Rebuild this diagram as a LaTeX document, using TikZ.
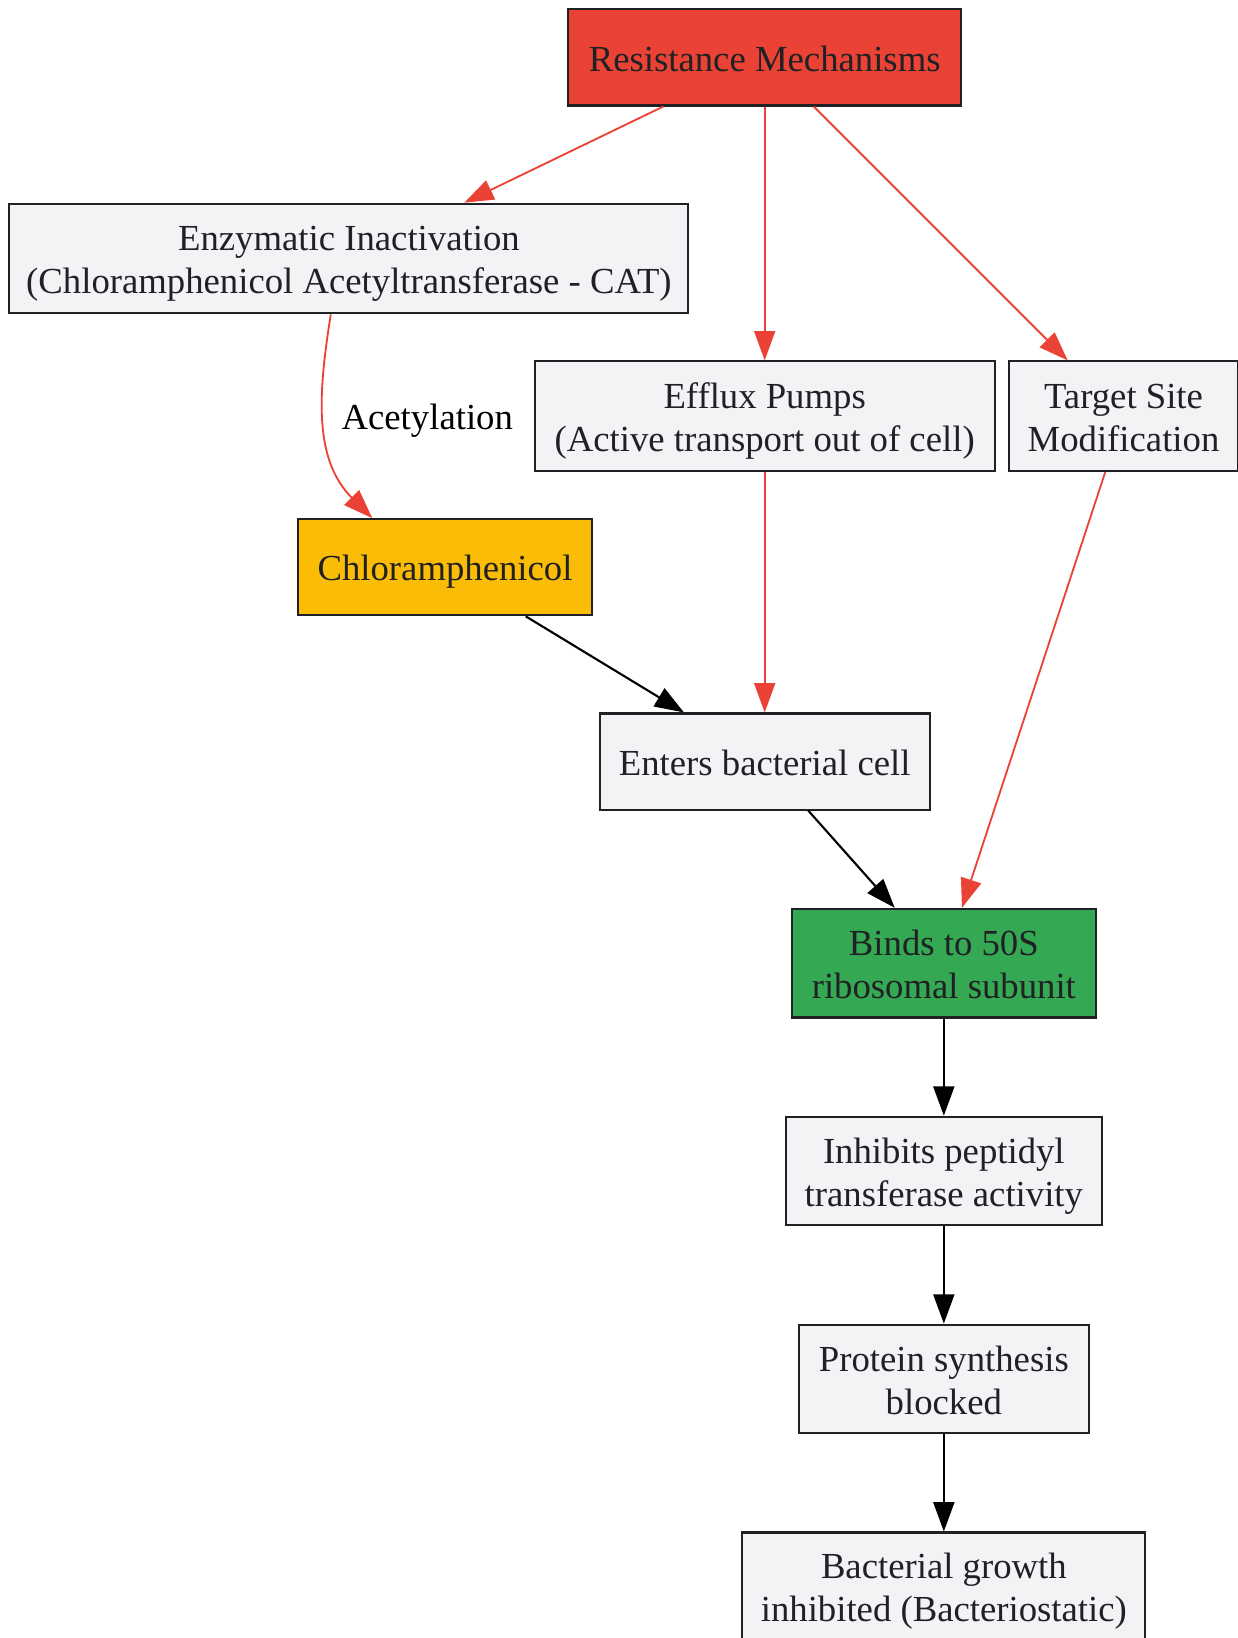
\documentclass[tikz,border=0pt]{standalone}
\usepackage{fontspec}
\setmainfont{Liberation Serif}
\usepackage{tikz}
\usepackage{xcolor}
\usetikzlibrary{arrows.meta}

\definecolor{resred}{HTML}{EA4335}
\definecolor{drugyellow}{HTML}{FBBC05}
\definecolor{bindgreen}{HTML}{34A853}
\definecolor{boxgray}{HTML}{F1F3F4}
\definecolor{inkgray}{HTML}{202124}

\newcommand{\oneline}[1]{\rule{0pt}{19pt}#1\rule[-3.8pt]{0pt}{3.8pt}}
\newcommand{\twolines}[2]{\rule{0pt}{19pt}#1\\#2\rule[-3.8pt]{0pt}{3.8pt}}

\begin{document}
\begin{tikzpicture}[
    box/.style={rectangle, draw=inkgray, line width=1.1pt, fill=boxgray, text=inkgray,
        align=center, inner sep=0pt, font=\fontsize{20}{23.4}\selectfont},
    flow/.style={line width=1.15pt, -{Triangle[length=0.56cm, width=0.4cm]}},
    resflow/.style={flow, line width=1pt, color=resred}
]
    \useasboundingbox (0,0) rectangle (23.7,-31.36);

    \node[box, fill=resred, minimum width=7.52cm, minimum height=1.84cm] (res) at (14.64,-1.10) {\oneline{Resistance Mechanisms}};
    \node[box, minimum width=13cm, minimum height=2.1cm] (enz) at (6.68,-4.95) {\twolines{Enzymatic Inactivation}{(Chloramphenicol Acetyltransferase - CAT)}};
    \node[box, minimum width=8.8cm, minimum height=2.1cm] (eff) at (14.64,-7.97) {\twolines{Efflux Pumps}{(Active transport out of cell)}};
    \node[box, minimum width=4.38cm, minimum height=2.1cm] (tgt) at (21.51,-7.97) {\twolines{Target Site}{Modification}};
    \node[box, fill=drugyellow, minimum width=5.64cm, minimum height=1.84cm] (chl) at (8.52,-10.86) {\oneline{Chloramphenicol}};
    \node[box, minimum width=6.32cm, minimum height=1.84cm] (ent) at (14.64,-14.58) {\oneline{Enters bacterial cell}};
    \node[box, fill=bindgreen, minimum width=5.82cm, minimum height=2.08cm] (bind) at (18.07,-18.44) {\twolines{Binds to 50S}{ribosomal subunit}};
    \node[box, minimum width=6.06cm, minimum height=2.08cm] (inh) at (18.07,-22.42) {\twolines{Inhibits peptidyl}{transferase activity}};
    \node[box, minimum width=5.54cm, minimum height=2.08cm] (prot) at (18.07,-26.40) {\twolines{Protein synthesis}{blocked}};
    \node[box, minimum width=7.72cm, minimum height=2.08cm] (grow) at (18.07,-30.38) {\twolines{Bacterial growth}{inhibited (Bacteriostatic)}};
    \node[font=\fontsize{20}{23.4}\selectfont] (acet) at (8.18,-8.06) {Acetylation};

    \draw[resflow] (res) -- (enz);
    \draw[resflow] (res) -- (eff);
    \draw[resflow] (res) -- (tgt);
    \draw[resflow] (enz.252) to[out=-99, in=135, out distance=1.52cm, in distance=1.6cm] (chl.146);
    \draw[flow] (chl) -- (ent);
    \draw[resflow] (eff) -- (ent);
    \draw[resflow] (tgt) -- (bind);
    \draw[flow] (ent) -- (bind);
    \draw[flow] (bind) -- (inh);
    \draw[flow] (inh) -- (prot);
    \draw[flow] (prot) -- (grow);
\end{tikzpicture}
\end{document}
